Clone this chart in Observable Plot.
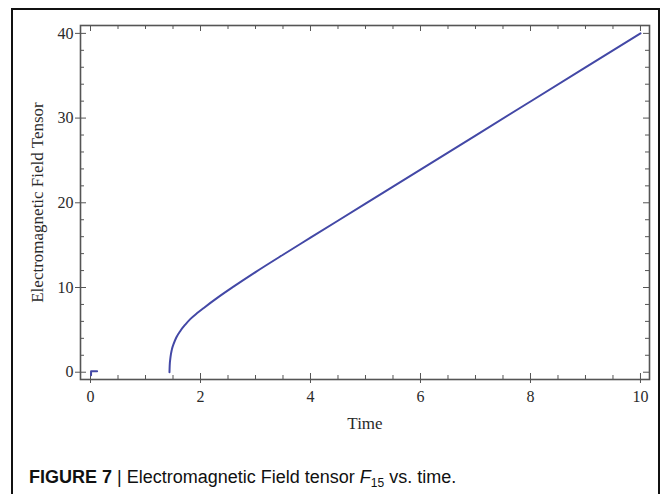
<!DOCTYPE html>
<html><head><meta charset="utf-8">
<script src="https://cdn.jsdelivr.net/npm/d3@7"></script>
<script src="https://cdn.jsdelivr.net/npm/@observablehq/plot@0.6"></script>
<style>
body{margin:0;background:#fff;width:664px;height:494px;overflow:hidden;position:relative;font-family:"Liberation Serif",serif}
#border{position:absolute;left:11px;top:8px;width:645px;height:520px;border:2px solid #111;z-index:2;pointer-events:none}
#chart{position:absolute;left:0;top:0;z-index:1}
#caption{position:absolute;left:29px;top:468px;font-family:"Liberation Sans",Arial,sans-serif;font-size:18px;line-height:18px;color:#111;white-space:nowrap}
#caption sub{font-size:12px;vertical-align:-4px;line-height:0}
</style></head><body>
<div id="border"></div>
<div id="chart"></div>
<div id="caption"><b>FIGURE 7</b> | Electromagnetic Field tensor <i>F</i><sub>15</sub> vs. time.</div>
<script>
// main curve: F15 vs time
const time  = [1.436,1.44,1.455,1.48,1.515,1.56,1.636,1.72,1.818,1.94,2.06,2.33,2.6,3.0,3.5,4,5,6,7,8,9,10];
const field = [0,0.8,1.8,2.7,3.4,4.1,4.9,5.6,6.3,6.98,7.59,8.89,10.1,11.82,13.87,15.88,19.9,23.92,27.94,31.96,35.98,40.0];
// tiny stub near t = 0
const stubTime  = [0.01,0.01,0.12];
const stubField = [-0.35,0.12,0.12];
// ticks
const xMajor = [0,2,4,6,8,10];
const xMinor = [0.5,1,1.5,2.5,3,3.5,4.5,5,5.5,6.5,7,7.5,8.5,9,9.5];
const yMajor = [0,10,20,30,40];
const yMinor = [2,4,6,8,12,14,16,18,22,24,26,28,32,34,36,38];
const xTitle = "Time";
const yTitle = "Electromagnetic Field Tensor";

const curve = time.map((t,i)=>({t, v: field[i]}));
const stub = stubTime.map((t,i)=>({t, v: stubField[i]}));

const W = 664, H = 445, mL = 80, mR = 15, mT = 25, mB = H - 379;
const innerH = H - mT - mB, innerW = W - mL - mR;
const tickCol = "#555";
const textCol = "#2a2a2a";
const major = 6, minor = 4;

const chart = Plot.plot({
  width: W, height: H,
  marginLeft: mL, marginRight: mR, marginTop: mT, marginBottom: mB,
  style: {fontFamily: "Liberation Serif, serif", fontSize: "16px", color: textCol, background: "transparent"},
  x: {domain: [-0.182, 10.164]},
  y: {domain: [-0.86, 40.93]},
  marks: [
    Plot.axisX(xMajor, {tickSize: 0, tickPadding: 11, fontSize: 16, label: null, fill: textCol}),
    Plot.axisY(yMajor, {tickSize: 0, tickPadding: 7, fontSize: 16, label: null, fill: textCol}),
    // bottom ticks
    Plot.tickX(xMajor, {x: d=>d, insetTop: innerH - major, insetBottom: -4, stroke: tickCol}),
    Plot.tickX(xMinor, {x: d=>d, insetTop: innerH - minor, stroke: tickCol}),
    // top ticks
    Plot.tickX(xMajor, {x: d=>d, insetBottom: innerH - major, stroke: tickCol}),
    Plot.tickX(xMinor, {x: d=>d, insetBottom: innerH - minor, stroke: tickCol}),
    // left ticks
    Plot.tickY(yMajor, {y: d=>d, insetRight: innerW - major, insetLeft: -5, stroke: tickCol}),
    Plot.tickY(yMinor, {y: d=>d, insetRight: innerW - minor, stroke: tickCol}),
    // right ticks
    Plot.tickY(yMajor, {y: d=>d, insetLeft: innerW - major, stroke: tickCol}),
    Plot.tickY(yMinor, {y: d=>d, insetLeft: innerW - minor, stroke: tickCol}),
    Plot.frame({stroke: tickCol, strokeWidth: 1.6}),
    Plot.line(stub, {x: "t", y: "v", stroke: "#4348a6", strokeWidth: 2}),
    Plot.line(curve, {x: "t", y: "v", stroke: "#4348a6", strokeWidth: 2, curve: "monotone-x"}),
    Plot.text([xTitle], {frameAnchor: "bottom", dy: 49, fontSize: 17, fill: textCol}),
    Plot.text([yTitle], {frameAnchor: "left", dx: -43, rotate: -90, textAnchor: "middle", fontSize: 17, fill: textCol})
  ]
});
document.getElementById("chart").appendChild(chart);
</script>
</body></html>
